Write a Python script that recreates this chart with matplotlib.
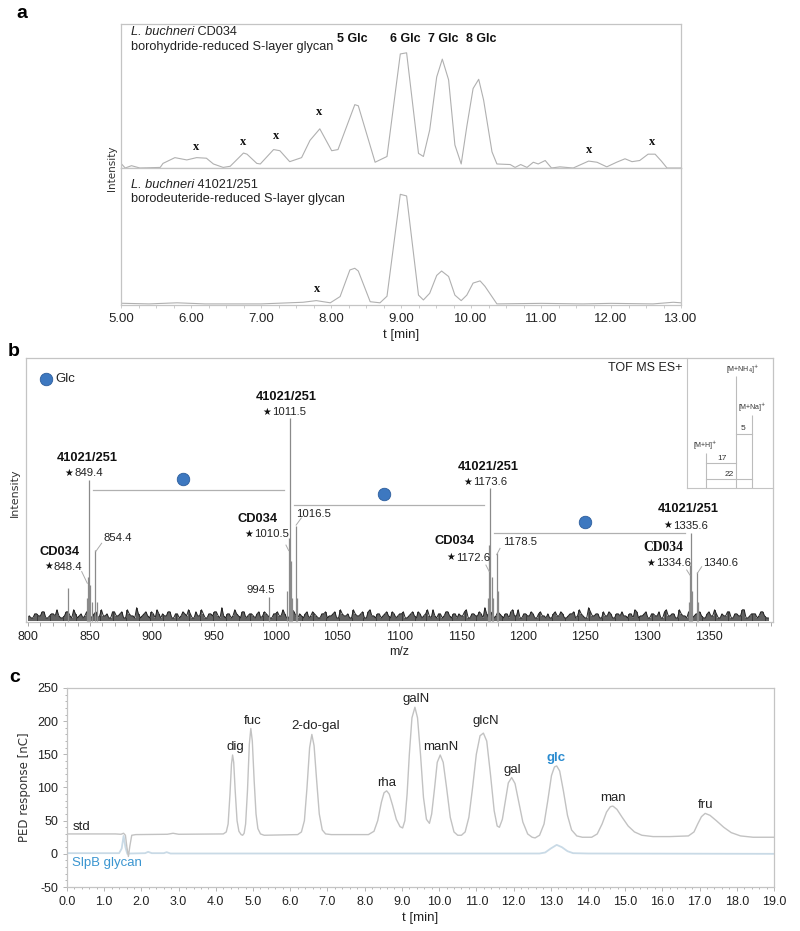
import numpy as np
import matplotlib
matplotlib.use("Agg")
import matplotlib.pyplot as plt
from matplotlib.ticker import MultipleLocator, FixedLocator

plt.rcParams['font.family'] = ['Liberation Sans', 'DejaVu Sans']
SANS = ['Liberation Sans', 'DejaVu Sans']
SERIF = ['Liberation Serif', 'DejaVu Serif']
STARF = ['DejaVu Sans']

# ---------------- Panel a data (relative intensity, 6 Glc = 100) ----------------
t_cd034 = [5.00, 5.06, 5.15, 5.27, 5.56, 5.60, 5.77, 5.94, 6.08, 6.22, 6.32, 6.46, 6.56,
           6.75, 6.80, 6.94, 6.99, 7.18, 7.27, 7.41, 7.58, 7.70, 7.84, 8.01, 8.10, 8.34,
           8.39, 8.63, 8.80, 8.99, 9.08, 9.25, 9.32, 9.41, 9.51, 9.59, 9.68, 9.77, 9.86,
           9.94, 10.03, 10.11, 10.18, 10.30, 10.37, 10.56, 10.63, 10.71, 10.80, 10.89,
           10.96, 11.06, 11.15, 11.27, 11.46, 11.68, 11.80, 11.94, 12.08, 12.20, 12.30,
           12.41, 12.53, 12.63, 12.72, 12.80, 13.00]
i_cd034 = [4, 0, 2, 0, 0.5, 4, 9, 7, 9, 8.5, 3.5, 0.5, 1.5,
           13, 12, 4, 3.5, 16, 15, 5.5, 9, 24, 34, 15, 16, 55,
           54, 5, 10, 99, 100, 12.7, 10, 33, 79, 94.5, 76.5, 20, 3.5,
           36, 69, 77, 59, 14, 3.5, 3, 0.5, 3, 0.5, 5,
           3.5, 6.5, 0, 1, 0, 6, 5, 1, 5, 8, 5.5,
           6.5, 12, 12, 6, 0, 0]
t_41021 = [5.00, 5.40, 5.80, 6.20, 7.00, 7.60, 7.79, 7.99, 8.13, 8.27, 8.34, 8.39, 8.56,
           8.70, 8.80, 8.99, 9.08, 9.25, 9.32, 9.41, 9.51, 9.58, 9.68, 9.77, 9.86, 9.94,
           10.03, 10.13, 10.20, 10.37, 11.00, 11.60, 12.00, 12.60, 12.89, 13.00]
i_41021 = [0.6, 0, 1, 0, 0, 1.5, 3, 1, 6.7, 31, 32.5, 30, 2,
           1, 7, 100, 98.5, 8, 3.6, 9.7, 26, 30, 25, 8, 3, 8,
           19, 21, 16, 0, 0.5, 0, 0.5, 0, 1.5, 1]
glc_labels_a = ['5 Glc', '6 Glc', '7 Glc', '8 Glc']
glc_t_a = [8.31, 9.06, 9.60, 10.14]
xmark_cd034_t = [6.07, 6.75, 7.21, 7.83, 11.69, 12.58]
xmark_cd034_i = [14, 18.5, 24, 44.6, 12, 19]
xmark_41021_t = [7.80]
xmark_41021_i = [10]
a_ticks = [5, 6, 7, 8, 9, 10, 11, 12, 13]
a_ticklabels = ['5.00', '6.00', '7.00', '8.00', '9.00', '10.00', '11.00', '12.00', '13.00']

# ---------------- Panel b data (relative intensity, 1011.5 = 100) ----------------
pk_mz = [832.0, 847.4, 848.4, 849.4, 850.4, 851.4, 854.4, 855.4, 994.5, 1009.5, 1010.5,
         1011.5, 1012.5, 1013.5, 1016.5, 1017.5, 1171.6, 1172.6, 1173.6, 1174.6, 1175.6,
         1178.5, 1179.5, 1333.6, 1334.6, 1335.6, 1336.6, 1340.6, 1341.6]
pk_int = [16.7, 12, 22, 69.6, 18, 10, 35.3, 10, 12.4, 15, 41,
          100, 30, 12, 47, 12, 12, 37.7, 65.7, 22, 12,
          33.8, 15, 10, 28, 43.8, 15, 24.7, 10]
noise_a = [3, 2, 4, 3, 5, 2, 4, 3, 3, 2, 5, 3, 6, 2, 4, 3, 4, 2, 5, 3,
           3, 4, 2, 5, 3, 5, 2, 4, 3, 7, 2, 4, 3, 5, 2, 4, 4, 3, 5, 2,
           4, 3, 4, 6, 2, 5, 3, 4, 2, 4, 5, 3, 7, 2, 4, 3, 4, 2, 5, 3,
           4, 2, 5, 3, 4, 2, 4, 5, 3, 4, 2, 6, 3, 4, 2, 5, 3, 4, 2, 4,
           5, 3, 4, 2, 6, 3, 4, 2, 4, 3, 5, 2, 6, 3, 4, 2, 4, 3, 5, 2,
           4, 5, 2, 4, 3, 5, 2, 4, 3, 6, 2, 4, 3, 5, 2, 4, 4, 3, 6, 2,
           4, 3, 4, 7, 2, 5, 3, 4, 2, 4, 5, 3, 6, 2, 4, 3, 4, 2, 5, 3,
           4, 2, 5, 3, 4, 2, 4, 5, 3, 4, 2, 7, 3, 4, 2, 5, 3, 4, 2, 4,
           5, 3, 4, 2, 5, 3, 4, 2, 4, 3, 5, 2, 6, 3, 4, 2, 4, 3, 5, 2,
           4, 5, 2, 4, 3, 6, 2, 4, 3, 5, 2, 4, 3, 6, 2, 4, 4, 3, 5, 2]
noise_b = [2, 4, 3, 5, 2, 3, 4, 6, 2, 3, 5, 2, 4, 3, 2, 5, 3, 4, 2, 6,
           3, 2, 5, 3, 4, 2, 6, 3, 2, 4, 3, 5, 2, 4, 6, 2, 3, 5, 2, 4,
           2, 5, 3, 4, 2, 3, 6, 2, 4, 3, 5, 2, 3, 4, 2, 6, 3, 5, 2, 4,
           3, 4, 2, 5, 3, 2, 4, 3, 6, 2, 4, 5, 2, 3, 4, 2, 5, 3, 2, 4,
           2, 3, 5, 2, 4, 3, 2, 6, 3, 4, 2, 5, 3, 2, 4, 3, 5, 2, 4, 3,
           4, 2, 3, 5, 2, 4, 3, 6, 2, 3, 4, 2, 5, 3, 4, 2, 3, 5, 2, 4,
           3, 5, 2, 4, 3, 2, 5, 3, 4, 2, 6, 3, 2, 4, 3, 5, 2, 4, 3, 2,
           2, 4, 3, 5, 2, 3, 4, 2, 6, 3, 2, 5, 3, 4, 2, 3, 5, 2, 4, 3,
           3, 2, 4, 6, 2, 3, 5, 2, 4, 3, 2, 5, 3, 4, 2, 6, 3, 2, 4, 3,
           4, 3, 2, 5, 3, 4, 2, 3, 5, 2, 4, 3, 6, 2, 3, 4, 2, 5, 3, 2]
glc_steps_from = [849.4, 1011.5, 1173.6]
glc_steps_to = [1011.5, 1173.6, 1335.6]
b_ticks = [800, 850, 900, 950, 1000, 1050, 1100, 1150, 1200, 1250, 1300, 1350]
adducts = ['[M+H]$^{+}$', '[M+NH$_4$]$^{+}$', '[M+Na]$^{+}$']
adduct_deltas = ['17', '5', '22']

# ---------------- Panel c data (PED response, nC) ----------------
t_std = [0.0, 1.30, 1.45, 1.52, 1.57, 1.61, 1.65, 1.69, 1.74, 1.85, 2.70, 2.85, 3.00, 4.20,
         4.28, 4.33, 4.38, 4.42, 4.45, 4.48, 4.52, 4.57, 4.62, 4.68, 4.72,
         4.76, 4.80, 4.85, 4.90, 4.94, 4.98, 5.03, 5.08, 5.13, 5.20, 5.30,
         6.20, 6.30, 6.38, 6.45, 6.52, 6.58, 6.64, 6.71, 6.78, 6.86, 6.95, 7.10,
         8.10, 8.25, 8.35, 8.45, 8.52, 8.59, 8.66, 8.75, 8.85, 8.95, 9.02,
         9.08, 9.14, 9.20, 9.27, 9.35, 9.42, 9.50, 9.58, 9.66, 9.74,
         9.80, 9.88, 9.95, 10.03, 10.11, 10.20, 10.30, 10.40, 10.50, 10.60,
         10.70, 10.80, 10.90, 11.00, 11.10, 11.19, 11.28, 11.38, 11.48, 11.56, 11.62,
         11.70, 11.78, 11.86, 11.95, 12.04, 12.14, 12.25, 12.38, 12.50, 12.58,
         12.70, 12.82, 12.92, 13.02, 13.10, 13.16, 13.24, 13.34, 13.45, 13.56, 13.70, 13.85, 14.10,
         14.25, 14.38, 14.50, 14.60, 14.67, 14.78, 14.92, 15.08, 15.25, 15.45, 15.75,
         16.20, 16.70, 16.85, 16.95, 17.05, 17.15, 17.28, 17.45, 17.65, 17.85, 18.10, 18.44, 19.0]
y_std = [30, 30, 29.5, 31, 28, 10, -4, 12, 28, 29, 29.5, 31, 29.5, 30,
         33, 45, 90, 135, 149, 138, 95, 50, 34, 29, 28,
         31, 45, 95, 165, 189, 170, 110, 60, 38, 30, 28,
         29, 33, 50, 100, 160, 180, 163, 110, 60, 36, 30, 29,
         29, 34, 50, 78, 92, 95, 90, 73, 52, 41, 39,
         50, 90, 150, 205, 221, 205, 150, 85, 52, 46,
         60, 100, 138, 149, 138, 100, 55, 33, 28, 28,
         33, 55, 100, 150, 178, 182, 170, 120, 65, 42, 40,
         52, 80, 107, 115, 106, 78, 48, 30, 25, 24,
         28, 45, 80, 118, 131, 132.5, 125, 95, 58, 36, 27, 25, 25,
         30, 45, 63, 71, 72, 67, 55, 42, 33, 28, 26,
         26, 27, 33, 45, 56, 61, 58, 50, 40, 32, 27, 25, 25]
t_slpb = [0.0, 1.40, 1.47, 1.52, 1.57, 1.62, 1.70, 2.10, 2.18, 2.28, 2.60, 2.68, 2.78,
          3.50, 12.70, 12.85, 13.00, 13.16, 13.30, 13.45, 13.60, 14.00, 19.0]
y_slpb = [1, 1, 8, 27, 10, 0, 0.5, 1, 3, 1, 1, 2.5, 0.5,
          0.5, 0.5, 2, 8, 13.5, 10, 4, 1, 0.5, 0]
sugars = ['dig', 'fuc', '2-do-gal', 'rha', 'galN', 'manN', 'glcN', 'gal', 'glc', 'man', 'fru']
sugar_t = [4.52, 5.00, 6.67, 8.60, 9.38, 10.05, 11.26, 11.96, 13.15, 14.68, 17.15]
sugar_apex = [149, 189, 180, 95, 221, 149, 182, 115, 132.5, 72, 61]
c_xticks = list(range(0, 20))
c_yticks = [-50, 0, 50, 100, 150, 200, 250]

W, H = 800, 931
fig = plt.figure(figsize=(W / 100, H / 100), dpi=100)


def box(l, t, r, b):
    return [l / W, 1 - b / H, (r - l) / W, (b - t) / H]


SPINE = '#c4c4c4'
TXT = '#222222'


def two_style(ax, x, y, italic_part, rest, size):
    t1 = ax.text(x, y, italic_part, transform=ax.transAxes, fontfamily=SANS,
                 fontstyle='italic', fontsize=size, color=TXT, va='center', ha='left')
    ax.annotate(rest, xy=(1, 0.5), xycoords=t1, fontfamily=SANS, fontsize=size,
                color=TXT, va='center', ha='left')


# ================= Panel a =================
ax1 = fig.add_axes(box(121, 24, 681, 168))
ax2 = fig.add_axes(box(121, 168, 681, 305), sharex=ax1)
for ax in (ax1, ax2):
    for s in ax.spines.values():
        s.set_color(SPINE)
        s.set_linewidth(0.9)
    ax.set_yticks([])
    ax.set_xlim(5, 13)
    ax.xaxis.set_major_locator(FixedLocator(a_ticks))
    ax.xaxis.set_minor_locator(MultipleLocator(0.25))
    ax.tick_params(axis='x', which='both', direction='out', color=SPINE, length=2.5, width=0.6)
ax1.set_ylim(0, 125)
ax2.set_ylim(-1, 124)
ax1.tick_params(axis='x', labelbottom=False)
ax1.plot(t_cd034, i_cd034, color='#b0b0b0', lw=0.8)
ax2.plot(t_41021, i_41021, color='#b0b0b0', lw=0.8)
ax2.set_xticklabels(a_ticklabels, fontfamily=SANS, fontsize=9.5, color=TXT)
ax2.tick_params(axis='x', pad=3)
ax2.set_xlabel('t [min]', fontfamily=SANS, fontsize=9.5, color=TXT, labelpad=3)

two_style(ax1, 0.018, 0.944, 'L. buchneri', ' CD034', 9.2)
ax1.text(0.018, 0.84, 'borohydride-reduced S-layer glycan', transform=ax1.transAxes,
         fontfamily=SANS, fontsize=9.2, color=TXT, va='center', ha='left')
two_style(ax2, 0.018, 0.876, 'L. buchneri', ' 41021/251', 9.2)
ax2.text(0.018, 0.774, 'borodeuteride-reduced S-layer glycan', transform=ax2.transAxes,
         fontfamily=SANS, fontsize=9.2, color=TXT, va='center', ha='left')
for lab, tt in zip(glc_labels_a, glc_t_a):
    ax1.text(tt, 112, lab, ha='center', va='center', fontfamily=SANS,
             fontsize=9, fontweight='bold', color='#111111')
for tt, ii in zip(xmark_cd034_t, xmark_cd034_i):
    ax1.text(tt, ii + 4, 'x', ha='center', va='center', fontfamily=SERIF,
             fontsize=9, fontweight='bold', color='#111111')
for tt, ii in zip(xmark_41021_t, xmark_41021_i):
    ax2.text(tt, ii + 4, 'x', ha='center', va='center', fontfamily=SERIF,
             fontsize=9, fontweight='bold', color='#111111')
fig.text(112 / W, 1 - 168 / H, 'Intensity', rotation=90, ha='center', va='center',
         fontfamily=['DejaVu Sans'], fontsize=7.5, color='#333333')
fig.text(22 / W, 1 - 14 / H, 'a', fontsize=14, fontweight='bold', ha='center', va='center',
         fontfamily=SANS)

# ================= Panel b =================
axb = fig.add_axes(box(26, 358, 773, 622))
for s in axb.spines.values():
    s.set_color(SPINE)
    s.set_linewidth(0.9)
axb.set_xlim(798.4, 1401.8)
axb.set_ylim(0, 129.4)
axb.set_yticks([])
axb.xaxis.set_major_locator(FixedLocator(b_ticks))
axb.xaxis.set_minor_locator(MultipleLocator(10))
axb.tick_params(axis='x', which='both', direction='out', color='#999999', length=3, width=0.6)
axb.set_xticklabels([str(v) for v in b_ticks], fontfamily=SANS, fontsize=9, color=TXT)
axb.set_xlabel('m/z', fontfamily=SANS, fontsize=9, color=TXT, labelpad=2)

noise_all = np.column_stack([noise_a, noise_b]).ravel()
nx = np.linspace(801, 1398, len(noise_all))
axb.vlines(nx, 0.6, noise_all, color='#333333', lw=1.1)
axb.plot(nx, noise_all, color='#222222', lw=0.7)
axb.vlines(pk_mz, 0.6, pk_int, color='#8a8a8a', lw=0.9)

# Glc steps (horizontal bars + circle symbols)
bar_levels = [64.7, 57.4, 43.6]
for k, (m0, m1) in enumerate(zip(glc_steps_from, glc_steps_to)):
    ih = bar_levels[k]
    axb.plot([m0 + 3, m1 - 5], [ih, ih], color='#b0b0b0', lw=0.9)
    mid = 0.5 * (m0 + m1) - 5
    axb.plot(mid, ih + 5.3, 'o', ms=9, color='#3d78c0', mec='#2c5d9c', mew=0.6)
axb.plot(814.5, 119.1, 'o', ms=9, color='#3d78c0', mec='#2c5d9c', mew=0.6)
axb.text(822, 119.1, 'Glc', va='center', ha='left', fontfamily=SANS, fontsize=9.5, color=TXT)
fig.text(682 / W, 1 - 368 / H, 'TOF MS ES+', ha='right', va='center',
         fontfamily=SANS, fontsize=9, color=TXT)

# labelled peaks: (name, name centre, number, number left-edge, star?, name font)
ann = [
    ('41021/251', (847.7, 80.4), '849.4', (837.2, 73.0), True, 'sans'),
    ('CD034', (825.8, 34.3), '848.4', (821.0, 27.0), True, 'sans'),
    (None, None, '854.4', (861.4, 41.2), False, 'sans'),
    ('41021/251', (1008.4, 110.3), '1011.5', (997.1, 102.9), True, 'sans'),
    ('CD034', (985.8, 50.5), '1010.5', (982.6, 43.1), True, 'sans'),
    (None, None, '1016.5', (1016.8, 52.9), False, 'sans'),
    (None, None, '994.5', (976.9, 15.7), False, 'sans'),
    ('41021/251', (1171.6, 76.0), '1173.6', (1159.5, 68.6), True, 'sans'),
    ('CD034', (1144.9, 39.7), '1172.6', (1145.7, 31.4), True, 'sans'),
    (None, None, '1178.5', (1183.7, 39.2), False, 'sans'),
    ('41021/251', (1333.1, 55.4), '1335.6', (1321.0, 47.1), True, 'sans'),
    ('CD034', (1312.9, 36.3), '1334.6', (1307.3, 28.9), True, 'serif'),
    (None, None, '1340.6', (1345.2, 28.9), False, 'sans'),
]
leaders = [((843.4, 24.7), (847.9, 19.0)), ((859.5, 38.6), (854.7, 34.5)),
           ((1008.4, 37.7), (1010.6, 35.0)), ((1020.8, 51.0), (1016.6, 47.5)),
           ((1169.9, 27.9), (1172.6, 24.7)), ((1181.3, 36.1), (1178.6, 33.0)),
           ((1332.1, 25.5), (1334.7, 23.0)), ((1344.2, 27.1), (1340.7, 23.9))]
for name, nxy, num, numxy, star, nf in ann:
    if name is not None:
        axb.text(nxy[0], nxy[1], name, ha='center', va='center', fontweight='bold',
                 fontsize=9.3 if nf == 'sans' else 9.8,
                 fontfamily=SANS if nf == 'sans' else SERIF, color='#111111')
    tn = axb.text(numxy[0], numxy[1], num, ha='left', va='center',
                  fontfamily=SANS, fontsize=8.2, color=TXT)
    if star:
        axb.annotate('\u2605', xy=(0, 0.55), xycoords=tn, xytext=(-0.8, 0),
                     textcoords='offset points', ha='right', va='center',
                     fontfamily=STARF, fontsize=7, color='#111111')
for (a0, a1) in leaders:
    axb.plot([a0[0], a1[0]], [a0[1], a1[1]], color='#aaaaaa', lw=0.7)

fig.text(15 / W, 1 - 493 / H, 'Intensity', rotation=90, ha='center', va='center',
         fontfamily=['DejaVu Sans'], fontsize=8, color='#333333')
fig.text(14 / W, 1 - 352 / H, 'b', fontsize=14, fontweight='bold', ha='center', va='center',
         fontfamily=SANS)

# inset schematic of adduct spacing
axi = fig.add_axes(box(687, 358, 773, 488))
axi.set_xlim(0, 86)
axi.set_ylim(0, 130)
axi.set_xticks([])
axi.set_yticks([])
axi.patch.set_alpha(0)
for k in ('top', 'right'):
    axi.spines[k].set_visible(False)
for k in ('left', 'bottom'):
    axi.spines[k].set_color(SPINE)
    axi.spines[k].set_linewidth(0.8)
ix = [19, 49, 65]
ihs = [35, 112, 73]
axi.vlines(ix, 0, ihs, color='#bcbcbc', lw=0.8)
axi.plot([ix[0], ix[1]], [25, 25], color='#bcbcbc', lw=0.8)
axi.plot([ix[1], ix[2]], [54, 54], color='#bcbcbc', lw=0.8)
axi.plot([ix[0], ix[2]], [9, 9], color='#bcbcbc', lw=0.8)
axi.text(18, 42, adducts[0], fontsize=5, ha='center', va='center', color='#333333', fontfamily=SANS)
axi.text(56, 118, adducts[1], fontsize=5, ha='center', va='center', color='#333333', fontfamily=SANS)
axi.text(65, 80, adducts[2], fontsize=5, ha='center', va='center', color='#333333', fontfamily=SANS)
axi.text(35, 30, adduct_deltas[0], fontsize=6, ha='center', va='center', color='#333333', fontfamily=SANS)
axi.text(56, 60, adduct_deltas[1], fontsize=6, ha='center', va='center', color='#333333', fontfamily=SANS)
axi.text(42, 14, adduct_deltas[2], fontsize=6, ha='center', va='center', color='#333333', fontfamily=SANS)

# ================= Panel c =================
axc = fig.add_axes(box(67, 688, 774, 887))
for s in axc.spines.values():
    s.set_color(SPINE)
    s.set_linewidth(0.9)
axc.set_xlim(0, 19)
axc.set_ylim(-50, 250)
axc.xaxis.set_major_locator(FixedLocator(c_xticks))
axc.xaxis.set_minor_locator(MultipleLocator(0.2))
axc.yaxis.set_major_locator(FixedLocator(c_yticks))
axc.yaxis.set_minor_locator(MultipleLocator(10))
axc.tick_params(which='both', direction='out', color='#aaaaaa', width=0.6)
axc.tick_params(which='major', length=3)
axc.tick_params(which='minor', length=1.5)
axc.set_xticklabels(['%.1f' % v for v in c_xticks], fontfamily=SANS, fontsize=9, color=TXT)
axc.set_yticklabels([str(v) for v in c_yticks], fontfamily=SANS, fontsize=9, color=TXT)
axc.set_xlabel('t [min]', fontfamily=SANS, fontsize=9.5, color=TXT, labelpad=3)
axc.set_ylabel('PED response [nC]', fontfamily=['DejaVu Sans'], fontsize=8.5, color='#333333', labelpad=4)

axc.plot(t_slpb, y_slpb, color='#c9dae6', lw=1.3)
axc.plot(t_std, y_std, color='#c2c2c2', lw=1.0)
for name, tt, ap in zip(sugars, sugar_t, sugar_apex):
    off = 18 if name == 'glcN' else 12
    if name == 'glc':
        axc.text(tt, ap + off, name, ha='center', va='center', fontfamily=SANS,
                 fontsize=9.5, fontweight='bold', color='#2b8cd0')
    else:
        axc.text(tt, ap + off, name, ha='center', va='center', fontfamily=SANS,
                 fontsize=9.5, color=TXT)
axc.text(0.15, 41, 'std', ha='left', va='center', fontfamily=SANS, fontsize=9.5, color=TXT)
axc.text(0.13, -13.6, 'SlpB glycan', ha='left', va='center', fontfamily=SANS,
         fontsize=9.5, color='#3a95d0')
fig.text(15 / W, 1 - 678 / H, 'c', fontsize=14, fontweight='bold', ha='center', va='center',
         fontfamily=SANS)

fig.savefig('out.png', dpi=100)
